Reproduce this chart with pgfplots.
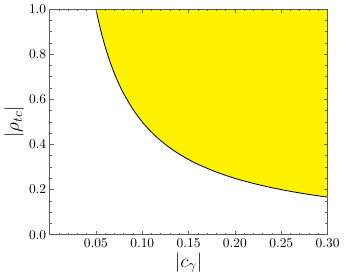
\documentclass[border=0pt]{standalone}
\usepackage{pgfplots}
\pgfplotsset{compat=1.18}
\begin{document}
\begin{tikzpicture}
\begin{axis}[
  scale only axis,
  width=207pt, height=168pt,
  xmin=0, xmax=0.30, ymin=0, ymax=1.0,
  xtick={0,0.05,0.10,0.15,0.20,0.25,0.30},
  xticklabels={,0.05,0.10,0.15,0.20,0.25,0.30},
  ytick={0,0.2,0.4,0.6,0.8,1.0},
  yticklabels={0.0,0.2,0.4,0.6,0.8,1.0},
  minor x tick num=4,
  minor y tick num=3,
  tick align=inside,
  major tick length=3pt,
  minor tick length=1.6pt,
  every tick/.style={gray!80!black, line width=0.5pt},
  axis line style={gray!70!black, line width=0.7pt},
  xticklabel style={yshift=1pt},
  yticklabel style={xshift=1pt},
  xlabel={\Large $|c_\gamma|$},
  ylabel={\Large $|\rho_{tc}|$},
  xlabel style={yshift=3pt},
  ylabel style={yshift=-3pt},
  axis on top,
]
\addplot[fill=yellow, draw=none] coordinates {
(0.05,1) (0.055,0.90909) (0.06,0.83333) (0.065,0.76923) (0.07,0.71429)
(0.075,0.66667) (0.08,0.625) (0.09,0.55556) (0.10,0.5) (0.11,0.45455)
(0.12,0.41667) (0.13,0.38462) (0.14,0.35714) (0.15,0.33333) (0.16,0.3125)
(0.18,0.27778) (0.20,0.25) (0.22,0.22727) (0.24,0.20833) (0.26,0.19231)
(0.28,0.17857) (0.30,0.16667) (0.30,1.0) (0.05,1)
} -- cycle;
\addplot[black, line width=0.6pt, smooth] coordinates {
(0.05,1) (0.055,0.90909) (0.06,0.83333) (0.065,0.76923) (0.07,0.71429)
(0.075,0.66667) (0.08,0.625) (0.09,0.55556) (0.10,0.5) (0.11,0.45455)
(0.12,0.41667) (0.13,0.38462) (0.14,0.35714) (0.15,0.33333) (0.16,0.3125)
(0.18,0.27778) (0.20,0.25) (0.22,0.22727) (0.24,0.20833) (0.26,0.19231)
(0.28,0.17857) (0.30,0.16667)
};
\end{axis}
\end{tikzpicture}
\end{document}
